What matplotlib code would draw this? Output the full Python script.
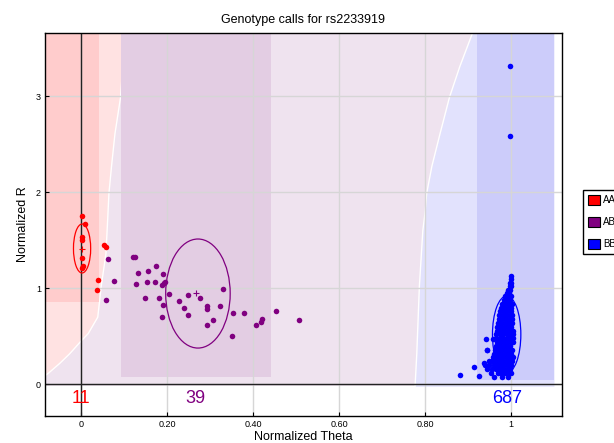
import matplotlib
matplotlib.use("Agg")
import matplotlib.pyplot as plt
from matplotlib.patches import Ellipse, Rectangle, Patch

plt.rcParams['font.family'] = ['Liberation Sans', 'DejaVu Sans']

# AA calls (11)
aa_theta = [0.002, 0.009, 0.003, 0.002, 0.002, 0.004, 0.003, 0.054, 0.057, 0.040, 0.038]
aa_r = [1.75, 1.67, 1.54, 1.50, 1.32, 1.23, 1.21, 1.45, 1.43, 1.09, 0.98]

# AB calls (39)
ab_theta = [0.062, 0.057, 0.077, 0.120, 0.125, 0.132, 0.127, 0.149, 0.153, 0.157,
            0.174, 0.173, 0.182, 0.188, 0.191, 0.193, 0.195, 0.190, 0.188, 0.205,
            0.228, 0.240, 0.250, 0.250, 0.277, 0.293, 0.293, 0.293, 0.306, 0.323,
            0.330, 0.351, 0.354, 0.378, 0.407, 0.419, 0.421, 0.453, 0.507]
ab_r = [1.305, 0.875, 1.08, 1.33, 1.33, 1.155, 1.05, 0.895, 1.07, 1.18,
        1.23, 1.07, 0.895, 1.035, 1.145, 1.06, 1.07, 0.83, 0.70, 0.94,
        0.865, 0.80, 0.93, 0.72, 0.895, 0.82, 0.78, 0.615, 0.67, 0.82,
        0.99, 0.505, 0.745, 0.745, 0.615, 0.645, 0.68, 0.765, 0.67]

# BB calls (687, dense cluster read row by row)
bb_theta = [0.999, 0.999, 0.998, 1.000, 0.997, 1.001, 0.992, 0.998, 0.990, 0.996,
            0.985, 0.993, 0.999, 0.984, 0.991, 0.998,
            0.979, 0.987, 0.995, 1.002, 0.976, 0.984, 0.992, 1.000,
            0.975, 0.983, 0.991, 0.999, 0.973, 0.981, 0.989, 0.997, 1.003,
            0.972, 0.980, 0.988, 0.996, 1.003, 0.970, 0.978, 0.986, 0.994, 1.002,
            0.968, 0.976, 0.984, 0.992, 1.000, 0.967, 0.975, 0.983, 0.991, 0.999, 1.004,
            0.966, 0.974, 0.982, 0.990, 0.998, 1.004,
            0.959, 0.966, 0.974, 0.982, 0.990, 0.998, 1.004,
            0.967, 0.975, 0.983, 0.991, 0.999, 1.004,
            0.966, 0.974, 0.982, 0.990, 0.998,
            0.944, 0.962, 0.970, 0.978, 0.986, 0.994, 1.002,
            0.960, 0.968, 0.976, 0.984, 0.992, 1.000,
            0.958, 0.966, 0.974, 0.982, 0.990, 0.998, 1.004,
            0.948, 0.956, 0.964, 0.972, 0.980, 0.988, 0.996, 1.003,
            0.940, 0.950, 0.960, 0.968, 0.976, 0.984, 0.992, 1.000,
            0.945, 0.955, 0.966, 0.974, 0.982, 0.990, 0.998,
            0.953, 0.970, 0.978, 0.986, 0.994, 1.000,
            0.960, 0.979, 0.993,
            0.881, 0.914, 0.926, 0.942, 0.944, 0.937, 0.998, 0.998]
bb_r = [1.13, 1.10, 1.06, 1.06, 1.02, 1.02, 0.98, 0.98, 0.95, 0.95,
        0.92, 0.92, 0.92, 0.88, 0.88, 0.88,
        0.84, 0.84, 0.84, 0.84, 0.80, 0.80, 0.80, 0.80,
        0.76, 0.76, 0.76, 0.76, 0.72, 0.72, 0.72, 0.72, 0.72,
        0.68, 0.68, 0.68, 0.68, 0.68, 0.64, 0.64, 0.64, 0.64, 0.64,
        0.60, 0.60, 0.60, 0.60, 0.60, 0.56, 0.56, 0.56, 0.56, 0.56, 0.56,
        0.52, 0.52, 0.52, 0.52, 0.52, 0.52,
        0.47, 0.48, 0.48, 0.48, 0.48, 0.48, 0.48,
        0.44, 0.44, 0.44, 0.44, 0.44, 0.44,
        0.40, 0.40, 0.40, 0.40, 0.40,
        0.36, 0.36, 0.36, 0.36, 0.36, 0.36, 0.36,
        0.32, 0.32, 0.32, 0.32, 0.32, 0.32,
        0.28, 0.28, 0.28, 0.28, 0.28, 0.28, 0.28,
        0.24, 0.24, 0.24, 0.24, 0.24, 0.24, 0.24, 0.24,
        0.20, 0.20, 0.20, 0.20, 0.20, 0.20, 0.20, 0.20,
        0.16, 0.16, 0.16, 0.16, 0.16, 0.16, 0.16,
        0.12, 0.12, 0.12, 0.12, 0.12, 0.12,
        0.08, 0.08, 0.08,
        0.10, 0.18, 0.09, 0.47, 0.36, 0.22, 3.32, 2.59]

counts = ["11", "39", "687"]
count_theta = [0.0, 0.267, 0.99]

# cluster ellipses: center theta, center R, half width, half height
ell_theta = [0.0025, 0.272, 0.99]
ell_r = [1.415, 0.946, 0.52]
ell_w = [0.020, 0.075, 0.033]
ell_h = [0.255, 0.568, 0.40]
cross_theta = [0.0025, 0.267, 0.99]
cross_r = [1.415, 0.955, 0.52]

# classification boundaries (theta at given R)
aa_bound_r = [0.09, 0.115, 0.22, 0.32, 0.44, 0.53, 0.70, 1.02, 1.36, 1.71, 1.99, 2.27, 2.61, 2.99, 3.31, 3.48, 3.70]
aa_bound_t = [-0.084, -0.076, -0.049, -0.026, -0.002, 0.017, 0.039, 0.047, 0.058, 0.062, 0.065, 0.071, 0.079, 0.092, 0.097, 0.102, 0.108]
bb_bound_r = [-0.02, 0.32, 1.02, 1.60, 1.78, 1.99, 2.27, 2.61, 2.99, 3.31, 3.70]
bb_bound_t = [0.777, 0.781, 0.787, 0.795, 0.800, 0.804, 0.816, 0.835, 0.857, 0.881, 0.914]

colors = ["#ff0000", "#800080", "#0000ff"]

fig = plt.figure(figsize=(6.14, 4.43), dpi=100)
ax = fig.add_axes([0.0733, 0.0609, 0.8415, 0.8646])
xmin, xmax = -0.0837, 1.118
ymin, ymax = -0.33, 3.66
top = 3.8

# background regions
ax.fill_between([-0.2, 1.1], -0.02, top, color="#efe3ef", lw=0, zorder=0)
ax.fill_betweenx(aa_bound_r, -0.2, aa_bound_t, color="#ffe2e2", lw=0, zorder=0.5)
ax.fill_betweenx(bb_bound_r, bb_bound_t, 1.1, color="#e2e2fd", lw=0, zorder=0.5)
ax.plot(aa_bound_t, aa_bound_r, color="white", lw=1, zorder=0.6)
ax.plot(bb_bound_t, bb_bound_r, color="white", lw=1, zorder=0.6)
ax.add_patch(Rectangle((-0.2, 0.86), 0.243, top, color="#ffcccc", lw=0, zorder=0.7))
ax.add_patch(Rectangle((0.093, 0.08), 0.441 - 0.093, top, color="#e3cde3", lw=0, zorder=0.7))
ax.add_patch(Rectangle((0.922, 0.045), 1.1 - 0.922, top, color="#ccccfa", lw=0, zorder=0.7))

ax.set_xlim(xmin, xmax)
ax.set_ylim(ymin, ymax)
ax.set_xticks([0, 0.2, 0.4, 0.6, 0.8, 1.0])
ax.set_xticklabels(["0", "0.20", "0.40", "0.60", "0.80", "1"])
ax.set_yticks([0, 1, 2, 3])
ax.set_yticklabels(["0", "1", "2", "3"])
ax.tick_params(direction="in", length=3, labelsize=6.5, width=0.8, pad=3)
ax.set_axisbelow(False)
ax.grid(True, color="#d6d6d6", lw=1)

ax.axvline(0, color="#222222", lw=1, zorder=3)
ax.axhline(0, color="#222222", lw=1, zorder=3)

ax.scatter(aa_theta, aa_r, s=16, color=colors[0], lw=0, zorder=4)
ax.scatter(ab_theta, ab_r, s=16, color=colors[1], lw=0, zorder=4)
ax.scatter(bb_theta, bb_r, s=16, color=colors[2], lw=0, zorder=4)

for i in range(3):
    ax.add_patch(Ellipse((ell_theta[i], ell_r[i]), 2 * ell_w[i], 2 * ell_h[i],
                         fill=False, edgecolor=colors[i], lw=0.9, zorder=5))
    ax.plot(cross_theta[i], cross_r[i], marker="+", ms=4, mew=0.8, color=colors[i], zorder=5)
    ax.text(count_theta[i], -0.15, counts[i], color=colors[i], fontsize=13,
            ha="center", va="center", zorder=5)

for sp in ax.spines.values():
    sp.set_color("black")
    sp.set_linewidth(1)
    sp.set_zorder(6)

ax.set_title("Genotype calls for rs2233919", fontsize=9, pad=7)
ax.set_xlabel("Normalized Theta", fontsize=9, labelpad=1)
ax.set_ylabel("Normalized R", fontsize=9, labelpad=5)

handles = [Patch(facecolor=c, edgecolor="black", lw=0.8) for c in colors]
fig.legend(handles, ["AA", "AB", "BB"], loc="upper left",
           bbox_to_anchor=(583 / 614, 1 - 190 / 443), fontsize=7,
           handlelength=1.2, handleheight=1.2, labelspacing=1.2,
           handletextpad=0.35, borderpad=0.5, borderaxespad=0,
           fancybox=False, edgecolor="black", framealpha=1)

fig.savefig("out.png", dpi=100)
